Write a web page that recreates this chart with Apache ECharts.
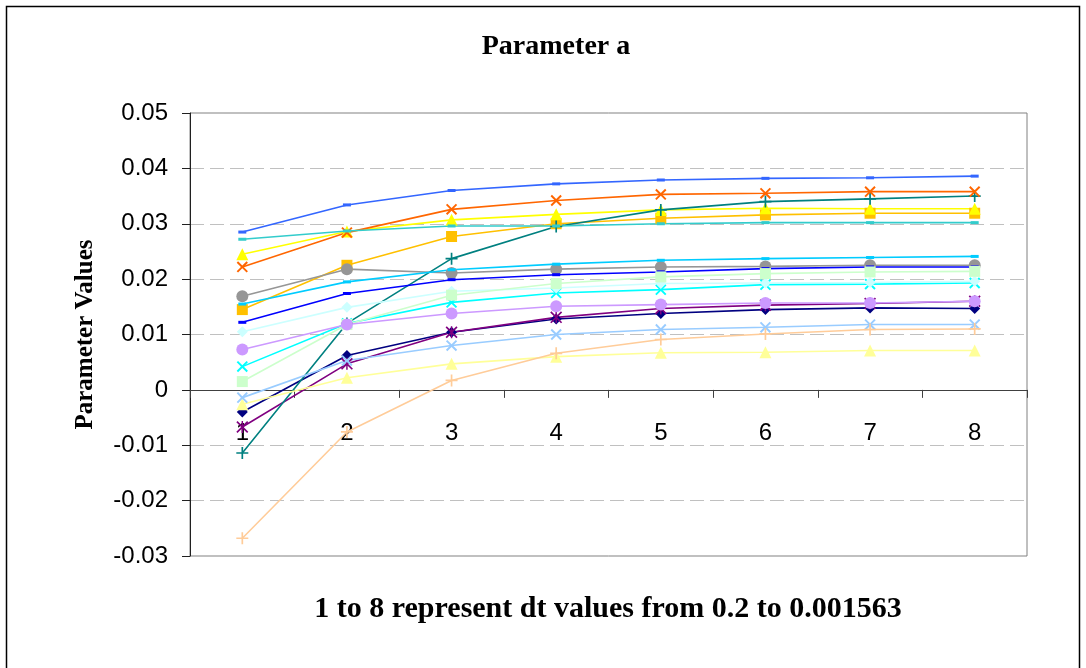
<!DOCTYPE html>
<html>
<head>
<meta charset="utf-8">
<script src="https://cdn.jsdelivr.net/npm/echarts@6/dist/echarts.min.js"></script>
<style>
  html, body { margin: 0; padding: 0; background: #fff; }
  #chart { width: 1086px; height: 668px; }
</style>
</head>
<body>
<div id="chart"></div>
<script>
// categories: 1..8 dt steps
const categories = ["1", "2", "3", "4", "5", "6", "7", "8"];
const yTicks = [-0.03, -0.02, -0.01, 0, 0.01, 0.02, 0.03, 0.04, 0.05];

// series values
const navy        = [-0.0040, 0.0062, 0.0104, 0.0128, 0.0138, 0.0145, 0.0148, 0.0147];
const gold        = [0.0145, 0.0225, 0.0277, 0.0300, 0.0310, 0.0316, 0.0319, 0.0319];
const yellow      = [0.0245, 0.0286, 0.0307, 0.0317, 0.0325, 0.0328, 0.0327, 0.0327];
const cyan        = [0.0042, 0.0120, 0.0158, 0.0175, 0.0181, 0.0190, 0.0191, 0.0193];
const purple      = [-0.0067, 0.0047, 0.0104, 0.0131, 0.0147, 0.0153, 0.0156, 0.0160];
const gray        = [0.0169, 0.0218, 0.0211, 0.0218, 0.0222, 0.0223, 0.0225, 0.0225];
const teal        = [-0.0114, 0.0120, 0.0237, 0.0295, 0.0325, 0.0340, 0.0345, 0.0350];
const blue        = [0.0122, 0.0174, 0.0199, 0.0208, 0.0213, 0.0219, 0.0222, 0.0222];
const skyBlue     = [0.0155, 0.0195, 0.0217, 0.0227, 0.0234, 0.0237, 0.0239, 0.0241];
const lightCyan   = [0.0105, 0.0149, 0.0178, 0.0184, 0.0192, 0.0193, 0.0194, 0.0196];
const lightGreen  = [0.0015, 0.0118, 0.0171, 0.0192, 0.0204, 0.0210, 0.0213, 0.0214];
const lightYellow = [-0.0026, 0.0022, 0.0047, 0.0060, 0.0067, 0.0068, 0.0071, 0.0071];
const paleBlue    = [-0.0014, 0.0053, 0.0080, 0.0100, 0.0109, 0.0113, 0.0118, 0.0118];
const orange      = [0.0222, 0.0284, 0.0326, 0.0342, 0.0353, 0.0355, 0.0358, 0.0358];
const lavender    = [0.0073, 0.0118, 0.0138, 0.0151, 0.0154, 0.0157, 0.0157, 0.0160];
const tan         = [-0.0268, -0.0076, 0.0017, 0.0066, 0.0091, 0.0101, 0.0109, 0.0110];
const royalBlue   = [0.0285, 0.0334, 0.0360, 0.0372, 0.0379, 0.0382, 0.0383, 0.0386];
const turquoise   = [0.0272, 0.0287, 0.0296, 0.0296, 0.0300, 0.0302, 0.0302, 0.0302];

// marker shapes (Excel style)
const PLUS = "path://M4.3,0H5.7V4.3H10V5.7H5.7V10H4.3V5.7H0V4.3H4.3Z";
const STAR = "path://M4.4,0H5.6V10H4.4Z M0,1L1,0L10,9L9,10Z M9,0L10,1L1,10L0,9Z";

const markers = {
  diamond: { symbol: "diamond", symbolSize: 11 },
  square: { symbol: "rect", symbolSize: 11 },
  triangle: { symbol: "triangle", symbolSize: 12 },
  x: { symbol: PLUS, symbolSize: 14, symbolRotate: 45 },
  star: { symbol: STAR, symbolSize: 12 },
  circle: { symbol: "circle", symbolSize: 12 },
  plus: { symbol: PLUS, symbolSize: 12 },
  dash: { symbol: "rect", symbolSize: [8, 3] },
};

function line(name, data, color, marker) {
  return Object.assign({
    name: name,
    type: "line",
    data: data,
    showSymbol: true,
    color: color,
    lineStyle: { color: color, width: 1.6 },
    itemStyle: { color: color },
    z: 3,
  }, markers[marker]);
}

const serifBold = { fontFamily: "Liberation Serif", fontWeight: "bold", color: "#000" };

const chart = echarts.init(document.getElementById("chart"));
chart.setOption({
  animation: false,
  backgroundColor: "#fff",
  title: [
    { text: "Parameter a", left: 551, textAlign: "center", top: 28, textStyle: Object.assign({ fontSize: 28 }, serifBold) },
    { text: "1 to 8 represent dt values from 0.2 to 0.001563", left: 603, textAlign: "center", top: 589,
      textStyle: Object.assign({ fontSize: 30 }, serifBold) },
  ],
  grid: {
    left: 190,
    right: 59,
    top: 113,
    bottom: 112,
    outerBoundsMode: "none",
    containLabel: false,
    show: true,
    borderColor: "#808080",
    borderWidth: 1,
  },
  xAxis: {
    type: "category",
    data: categories,
    boundaryGap: true,
    axisLine: { onZero: true, lineStyle: { color: "#404040", width: 1 } },
    axisTick: { show: true, alignWithLabel: false, length: 8, inside: false, lineStyle: { color: "#404040" } },
    // labels sit just under the zero line, like the source
    axisLabel: { margin: -135, fontFamily: "Liberation Sans", fontSize: 24, color: "#000" },
    splitLine: { show: false },
  },
  yAxis: {
    type: "value",
    min: yTicks[0],
    max: yTicks[yTicks.length - 1],
    interval: 0.01,
    name: "Parameter Values",
    nameLocation: "middle",
    nameGap: 92,
    nameTextStyle: Object.assign({ fontSize: 25 }, serifBold),
    axisLine: { show: true, lineStyle: { color: "#202020", width: 1 } },
    axisTick: { show: true, length: 8, lineStyle: { color: "#202020" } },
    axisLabel: {
      margin: 22,
      fontFamily: "Liberation Sans",
      fontSize: 24,
      color: "#000",
      formatter: v => String(+v.toFixed(2)),
    },
    splitLine: { show: true, lineStyle: { color: "#c0c0c0", type: [14, 6], width: 1 } },
  },
  graphic: [{
    type: "rect",
    shape: { x: 6.5, y: 6.5, width: 1073, height: 700 },
    style: { fill: "none", stroke: "#000", lineWidth: 1.5 },
    silent: true,
  }],
  series: [
    line("navy", navy, "#000080", "diamond"),
    line("gold", gold, "#FFC000", "square"),
    line("yellow", yellow, "#FFFF00", "triangle"),
    line("cyan", cyan, "#00FFFF", "x"),
    line("purple", purple, "#800080", "star"),
    line("gray", gray, "#969696", "circle"),
    line("teal", teal, "#008080", "plus"),
    line("blue", blue, "#0000FF", "dash"),
    line("skyBlue", skyBlue, "#00CCFF", "dash"),
    line("lightCyan", lightCyan, "#CCFFFF", "diamond"),
    line("lightGreen", lightGreen, "#CCFFCC", "square"),
    line("lightYellow", lightYellow, "#FFFF99", "triangle"),
    line("paleBlue", paleBlue, "#99CCFF", "x"),
    line("orange", orange, "#FF6600", "x"),
    line("lavender", lavender, "#CC99FF", "circle"),
    line("tan", tan, "#FFCC99", "plus"),
    line("royalBlue", royalBlue, "#3366FF", "dash"),
    line("turquoise", turquoise, "#33CCCC", "dash"),
  ],
});
window.addEventListener("resize", () => chart.resize());
</script>
</body>
</html>
